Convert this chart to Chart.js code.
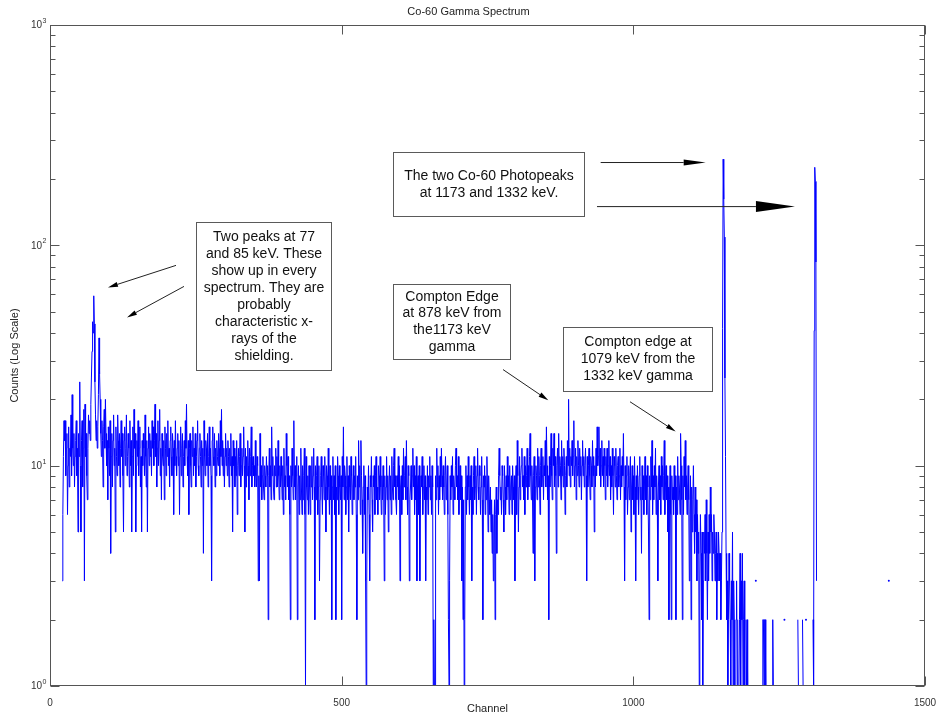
<!DOCTYPE html>
<html>
<head>
<meta charset="utf-8">
<title>Co-60 Gamma Spectrum</title>
<script src="https://cdn.jsdelivr.net/npm/chart.js@4.4.1/dist/chart.umd.min.js"></script>
<style>
  html, body { margin: 0; padding: 0; background: #fff; }
  #wrap { width: 937px; height: 717px; }
</style>
</head>
<body>
<div id="wrap"><canvas id="spectrum" width="937" height="717"></canvas></div>
<script>
// counts per channel (0 = empty channel, not drawn on a log axis)
const firstChannel = 21;
const counts = [
  3,6,11,16,13,16,9,12,14,6,10,15,8,12,11,17,9,21,12,10,14,8,11,13,16,        // 21
  9,12,5,14,11,24,10,5,13,16,8,12,18,3,19,11,14,9,7,12,17,14,16,13,19,        // 46
  25,33,45,40,59,44,24,17,13,16,12,15,21,38,26,20,14,11,16,13,8,15,18,12,20,  // 71
  14,10,13,7,15,12,9,16,4,11,14,8,13,17,10,12,5,15,11,9,17,13,10,14,8,        // 96
  12,16,11,14,9,5,13,15,10,12,17,9,11,14,12,8,16,10,13,5,11,15,9,18,12,       // 121
  14,5,10,13,11,16,9,12,15,8,11,5,13,10,14,12,9,17,11,8,13,5,12,15,10,        // 146
  14,11,13,9,16,12,15,10,13,19,11,14,8,12,16,10,13,18,9,12,7,14,11,10,13,     // 171
  7,15,12,9,14,11,16,10,12,8,13,15,11,9,14,12,6,13,10,16,11,9,12,14,10,       // 196
  13,6,11,15,9,12,14,8,11,13,10,16,12,19,11,9,13,6,12,14,10,8,13,11,15,       // 221
  9,12,10,14,8,11,13,16,10,9,12,14,11,8,13,10,12,4,16,11,9,13,12,10,14,       // 246
  8,11,15,10,12,9,3,13,15,11,10,14,8,12,9,13,11,10,14,12,9,16,11,18,10,       // 271
  13,9,12,8,11,14,10,12,9,13,11,8,12,10,14,9,11,5,13,10,12,8,11,9,13,         // 296
  6,10,12,9,11,14,8,10,12,9,11,15,10,5,12,8,11,9,13,10,7,12,9,11,15,          // 321
  8,10,11,9,10,8,13,9,8,11,10,3,9,3,14,8,10,7,9,11,8,7,10,9,8,                // 346
  11,9,10,2,9,12,8,10,7,15,9,11,8,7,10,9,12,8,11,8,13,9,7,10,8,               // 371
  11,9,7,10,6,12,8,9,7,14,10,8,11,7,9,6,2,10,8,12,9,7,16,8,10,                // 396
  7,9,11,2,8,10,6,9,7,12,8,6,10,7,9,12,6,1,11,8,7,9,6,10,8,                   // 421
  6,10,8,11,7,9,12,8,2,10,7,9,11,6,8,10,3,7,9,11,8,6,10,9,7,                  // 446
  11,8,5,10,9,7,12,8,6,10,7,9,2,8,11,7,9,6,10,2,8,7,11,9,6,                   // 471
  10,8,7,9,2,11,8,15,7,10,9,6,8,11,7,9,5,10,8,7,11,9,6,8,10,                  // 496
  7,9,8,11,6,2,9,7,13,8,10,6,13,9,7,4,8,10,6,9,3,1,3,8,7,                     // 521
  10,6,3,9,8,11,7,5,9,8,10,6,9,11,7,8,6,10,9,7,11,8,6,9,7,                    // 546
  10,8,3,9,6,8,11,7,9,5,8,10,7,9,6,11,8,7,10,12,8,9,7,6,9,                    // 571
  8,11,7,10,3,8,9,6,10,7,12,8,9,11,7,13,8,6,10,9,3,7,8,10,7,                  // 596
  9,12,8,10,6,9,7,11,3,8,9,6,10,3,7,9,8,11,6,8,10,7,9,3,8,                    // 621
  7,10,6,9,8,11,7,9,6,10,8,1,2,1,1,9,7,12,8,10,6,9,7,11,8,                    // 646
  12,9,7,10,8,6,9,11,7,8,10,6,2,1,3,9,7,10,8,11,6,9,8,7,10,                   // 671
  12,8,9,7,11,6,8,10,7,9,3,8,2,7,1,2,8,10,6,9,7,11,8,6,9,                     // 696
  7,10,3,8,6,9,11,7,8,10,6,9,12,8,7,10,9,6,8,11,7,2,9,8,10,                   // 721
  6,9,7,11,8,5,9,7,6,8,5,7,4,6,3,5,7,2,6,8,4,7,6,9,12,                        // 746
  9,7,8,6,10,9,7,5,10,8,6,9,7,11,8,9,6,10,7,8,9,6,10,8,7,                     // 771
  9,3,8,10,6,13,9,5,8,11,7,9,10,12,8,9,7,11,6,10,8,9,12,7,10,                 // 796
  8,11,14,9,7,10,8,4,9,11,3,8,10,9,7,12,8,11,9,6,10,12,8,9,11,                // 821
  7,10,9,13,8,15,10,7,9,2,11,8,10,14,9,7,12,10,14,8,11,9,4,10,12,             // 846
  8,14,9,11,10,7,13,9,11,8,12,10,6,9,11,8,13,10,20,9,12,8,11,10,13,           // 871
  9,11,16,8,10,12,7,11,9,13,10,8,12,9,11,7,10,13,9,11,8,10,12,9,3,            // 896
  11,8,10,12,9,7,11,10,8,13,9,11,5,10,8,12,9,15,10,11,15,9,12,8,10,           // 921
  13,9,11,8,12,10,7,11,9,12,8,10,13,9,11,7,10,8,12,9,6,11,10,8,12,            // 946
  9,7,10,11,8,9,12,7,10,8,11,9,14,8,3,10,7,9,11,6,8,10,7,9,11,                // 971
  5,8,10,7,9,6,11,8,3,9,7,10,8,6,9,11,7,8,4,10,7,9,6,8,11,                    // 996
  7,9,6,10,8,5,2,9,7,11,8,13,6,9,7,10,8,12,6,9,7,3,8,10,7,                    // 1021
  9,6,11,8,10,7,9,13,6,8,10,7,9,5,8,2,7,10,6,2,9,7,8,6,10,                    // 1046
  7,9,2,8,6,11,7,9,8,6,14,10,7,2,9,6,11,8,13,7,9,6,8,10,7,                    // 1071
  3,6,9,2,8,5,7,10,6,4,8,5,7,3,6,4,5,1,3,6,4,2,5,1,3,                         // 1096
  5,4,6,3,7,4,2,5,3,6,4,8,5,6,3,5,4,6,5,3,4,5,2,4,3,                          // 1121
  5,4,3,4,2,3,5,42,246,162,109,25,11,4,2,3,1,2,4,3,2,1,3,2,5,                 // 1146
  1,3,2,1,0,2,3,1,2,0,1,2,4,1,3,2,4,1,2,3,1,0,2,1,2,                          // 1171
  1,0,1,0,0,1,0,0,0,0,0,0,0,0,3,0,0,0,0,0,0,0,0,1,0,                          // 1196
  1,2,2,1,2,2,1,0,0,0,0,0,0,0,0,0,0,1,2,1,0,0,0,0,0,                          // 1221
  0,0,0,0,0,0,0,0,0,0,0,0,0,2,0,0,0,0,0,0,0,0,0,0,0,                          // 1246
  0,0,0,0,0,0,0,0,0,0,0,2,1,0,0,0,0,0,0,2,1,0,0,0,0,                          // 1271
  2,0,0,0,0,0,0,0,0,0,0,0,2,1,41,226,195,84,3,0                               // 1296
];

// lone channels further out
const strayChannels = [1438];
const strayCounts = [3];

const xTicks = [0, 500, 1000, 1500];
const yTicks = [1, 10, 100, 1000];
const yExponents = ['0', '1', '2', '3'];

// text boxes: [left channel, right channel, top count, bottom count]
const noteBoxes = [
  [250, 481, 128, 27.3],
  [588.5, 916, 265.5, 135.9],
  [588.5, 788.6, 66.5, 30.5],
  [879, 1134.3, 42.7, 21.8]
];
const noteTexts = [
  ['Two peaks at 77', 'and 85 keV. These', 'show up in every', 'spectrum. They are',
   'probably', 'characteristic x-', 'rays of the', 'shielding.'],
  ['The two Co-60 Photopeaks', 'at 1173 and 1332 keV.'],
  ['Compton Edge', 'at 878 keV from', 'the1173 keV', 'gamma'],
  ['Compton edge at', '1079 keV from the', '1332 keV gamma']
];

// arrows in data units: [channel, count] tail and tip
const arrowFrom = [[216, 81.1], [229.7, 65.1], [944, 237.6], [937.7, 149.9], [776.6, 27.3], [994.3, 19.5]];
const arrowTo = [[99.4, 64.4], [132, 47.1], [1124, 237.6], [1277, 149.9], [854.2, 19.8], [1072.6, 14.3]];
const arrowHeads = [[10, 2.5], [10, 2.5], [22, 3], [39, 5.5], [10, 2.5], [10, 2.5]];

const FONT = "'Liberation Sans', Arial, sans-serif";

const points = counts.map((c, i) => ({ x: firstChannel + i, y: c > 0 ? c : null }));
strayChannels.forEach((ch, i) => {
  points.push({ x: ch - 1, y: null });
  points.push({ x: ch, y: strayCounts[i] });
});

// a point with no neighbours would vanish, so give it a dot
function loneDot(ctx) {
  const d = ctx.dataset.data, i = ctx.dataIndex;
  if (!d[i] || d[i].y == null) return 0;
  const prevEmpty = !d[i - 1] || d[i - 1].y == null;
  const nextEmpty = !d[i + 1] || d[i + 1].y == null;
  return prevEmpty && nextEmpty ? 1 : 0;
}

function drawArrow(ctx, x0, y0, x1, y1, len, half) {
  const a = Math.atan2(y1 - y0, x1 - x0);
  const bx = x1 - len * Math.cos(a), by = y1 - len * Math.sin(a);
  ctx.beginPath();
  ctx.moveTo(x0, y0);
  ctx.lineTo(bx, by);
  ctx.stroke();
  ctx.beginPath();
  ctx.moveTo(x1, y1);
  ctx.lineTo(bx + half * Math.sin(a), by - half * Math.cos(a));
  ctx.lineTo(bx - half * Math.sin(a), by + half * Math.cos(a));
  ctx.closePath();
  ctx.fill();
}

const matlabFrame = {
  id: 'matlabFrame',
  afterDatasetsDraw(chart) {
    const { ctx, chartArea: a, scales: { x, y } } = chart;
    const L = Math.round(a.left) + 0.5, R = Math.round(a.right) - 0.5;
    const T = Math.round(a.top) + 0.5, B = Math.round(a.bottom) - 0.5;
    ctx.save();
    ctx.strokeStyle = '#555';
    ctx.lineWidth = 1;
    ctx.strokeRect(L, T, R - L, B - T);
    ctx.beginPath();
    xTicks.forEach(v => {
      const px = Math.round(x.getPixelForValue(v)) + 0.5;
      ctx.moveTo(px, B); ctx.lineTo(px, B - 9);
      ctx.moveTo(px, T); ctx.lineTo(px, T + 9);
    });
    for (let dec = 1; dec <= 1000; dec *= 10) {
      for (let m = 1; m <= 9; m++) {
        const v = dec * m;
        if (v > 1000) break;
        const len = m === 1 ? 9 : 5;
        const py = Math.round(y.getPixelForValue(v)) + 0.5;
        ctx.moveTo(L, py); ctx.lineTo(L + len, py);
        ctx.moveTo(R, py); ctx.lineTo(R - len, py);
      }
    }
    ctx.stroke();

    // y tick labels as 10 with a raised exponent
    ctx.fillStyle = '#333';
    ctx.textAlign = 'right';
    ctx.textBaseline = 'middle';
    yTicks.forEach((v, i) => {
      const py = y.getPixelForValue(v);
      ctx.font = '7px ' + FONT;
      const supW = ctx.measureText(yExponents[i]).width;
      ctx.fillText(yExponents[i], a.left - 3.5, py - 4);
      ctx.font = '10px ' + FONT;
      ctx.fillText('10', a.left - 4 - supW, py + 0.5);
    });

    // text boxes
    ctx.font = '14px ' + FONT;
    ctx.textAlign = 'center';
    noteBoxes.forEach((b, i) => {
      const x0 = Math.round(x.getPixelForValue(b[0])) + 0.5;
      const x1 = Math.round(x.getPixelForValue(b[1])) + 0.5;
      const y0 = Math.round(y.getPixelForValue(b[2])) + 0.5;
      const y1 = Math.round(y.getPixelForValue(b[3])) + 0.5;
      ctx.fillStyle = '#fff';
      ctx.fillRect(x0, y0, x1 - x0, y1 - y0);
      ctx.strokeStyle = '#5a5a5a';
      ctx.strokeRect(x0, y0, x1 - x0, y1 - y0);
      const lines = noteTexts[i];
      const lh = 16.9;
      const cy = (y0 + y1) / 2 - (lines.length - 1) * lh / 2;
      ctx.fillStyle = '#111';
      lines.forEach((t, k) => ctx.fillText(t, (x0 + x1) / 2, cy + k * lh));
    });

    // arrows
    ctx.strokeStyle = '#222';
    ctx.fillStyle = '#000';
    ctx.lineWidth = 1;
    arrowFrom.forEach((f, i) => {
      const t = arrowTo[i];
      drawArrow(ctx,
        x.getPixelForValue(f[0]), y.getPixelForValue(f[1]),
        x.getPixelForValue(t[0]), y.getPixelForValue(t[1]),
        arrowHeads[i][0], arrowHeads[i][1]);
    });
    ctx.restore();
  }
};

new Chart(document.getElementById('spectrum'), {
  type: 'line',
  data: {
    datasets: [{
      label: 'Counts',
      data: points,
      borderColor: '#0000ff',
      backgroundColor: '#0000ff',
      borderWidth: 1,
      pointRadius: loneDot,
      pointBorderWidth: 0,
      pointHoverRadius: 0,
      tension: 0,
      spanGaps: false,
      fill: false
    }]
  },
  options: {
    responsive: false,
    animation: false,
    devicePixelRatio: 1,
    layout: { padding: 0 },
    plugins: {
      legend: { display: false },
      tooltip: { enabled: false },
      title: {
        display: true,
        text: 'Co-60 Gamma Spectrum',
        color: '#222',
        font: { family: FONT, size: 11, weight: 'normal', lineHeight: 1 },
        padding: { top: 6, bottom: 8 }
      }
    },
    scales: {
      x: {
        type: 'linear',
        min: 0,
        max: 1500,
        grid: { display: false },
        border: { display: false },
        afterBuildTicks: s => { s.ticks = xTicks.map(v => ({ value: v })); },
        afterFit: s => { s.height = 31; s.paddingLeft = 0; s.paddingRight = 12; },
        ticks: { color: '#333', padding: 3, maxRotation: 0, autoSkip: false,
                 font: { family: FONT, size: 10 },
                 callback: v => String(v) },
        title: { display: true, text: 'Channel', color: '#222',
                 font: { family: FONT, size: 11, lineHeight: 1.2 }, padding: { top: 0, bottom: 1 } }
      },
      y: {
        type: 'logarithmic',
        min: 1,
        max: 1000,
        grid: { display: false },
        border: { display: false },
        afterBuildTicks: s => { s.ticks = yTicks.map(v => ({ value: v, major: true })); },
        afterFit: s => { s.width = 50; },
        ticks: { display: false },
        title: { display: true, text: 'Counts (Log Scale)', color: '#222',
                 font: { family: FONT, size: 11, lineHeight: 1.2 }, padding: { top: 8, bottom: 0 } }
      }
    }
  },
  plugins: [matlabFrame]
});
</script>
</body>
</html>
